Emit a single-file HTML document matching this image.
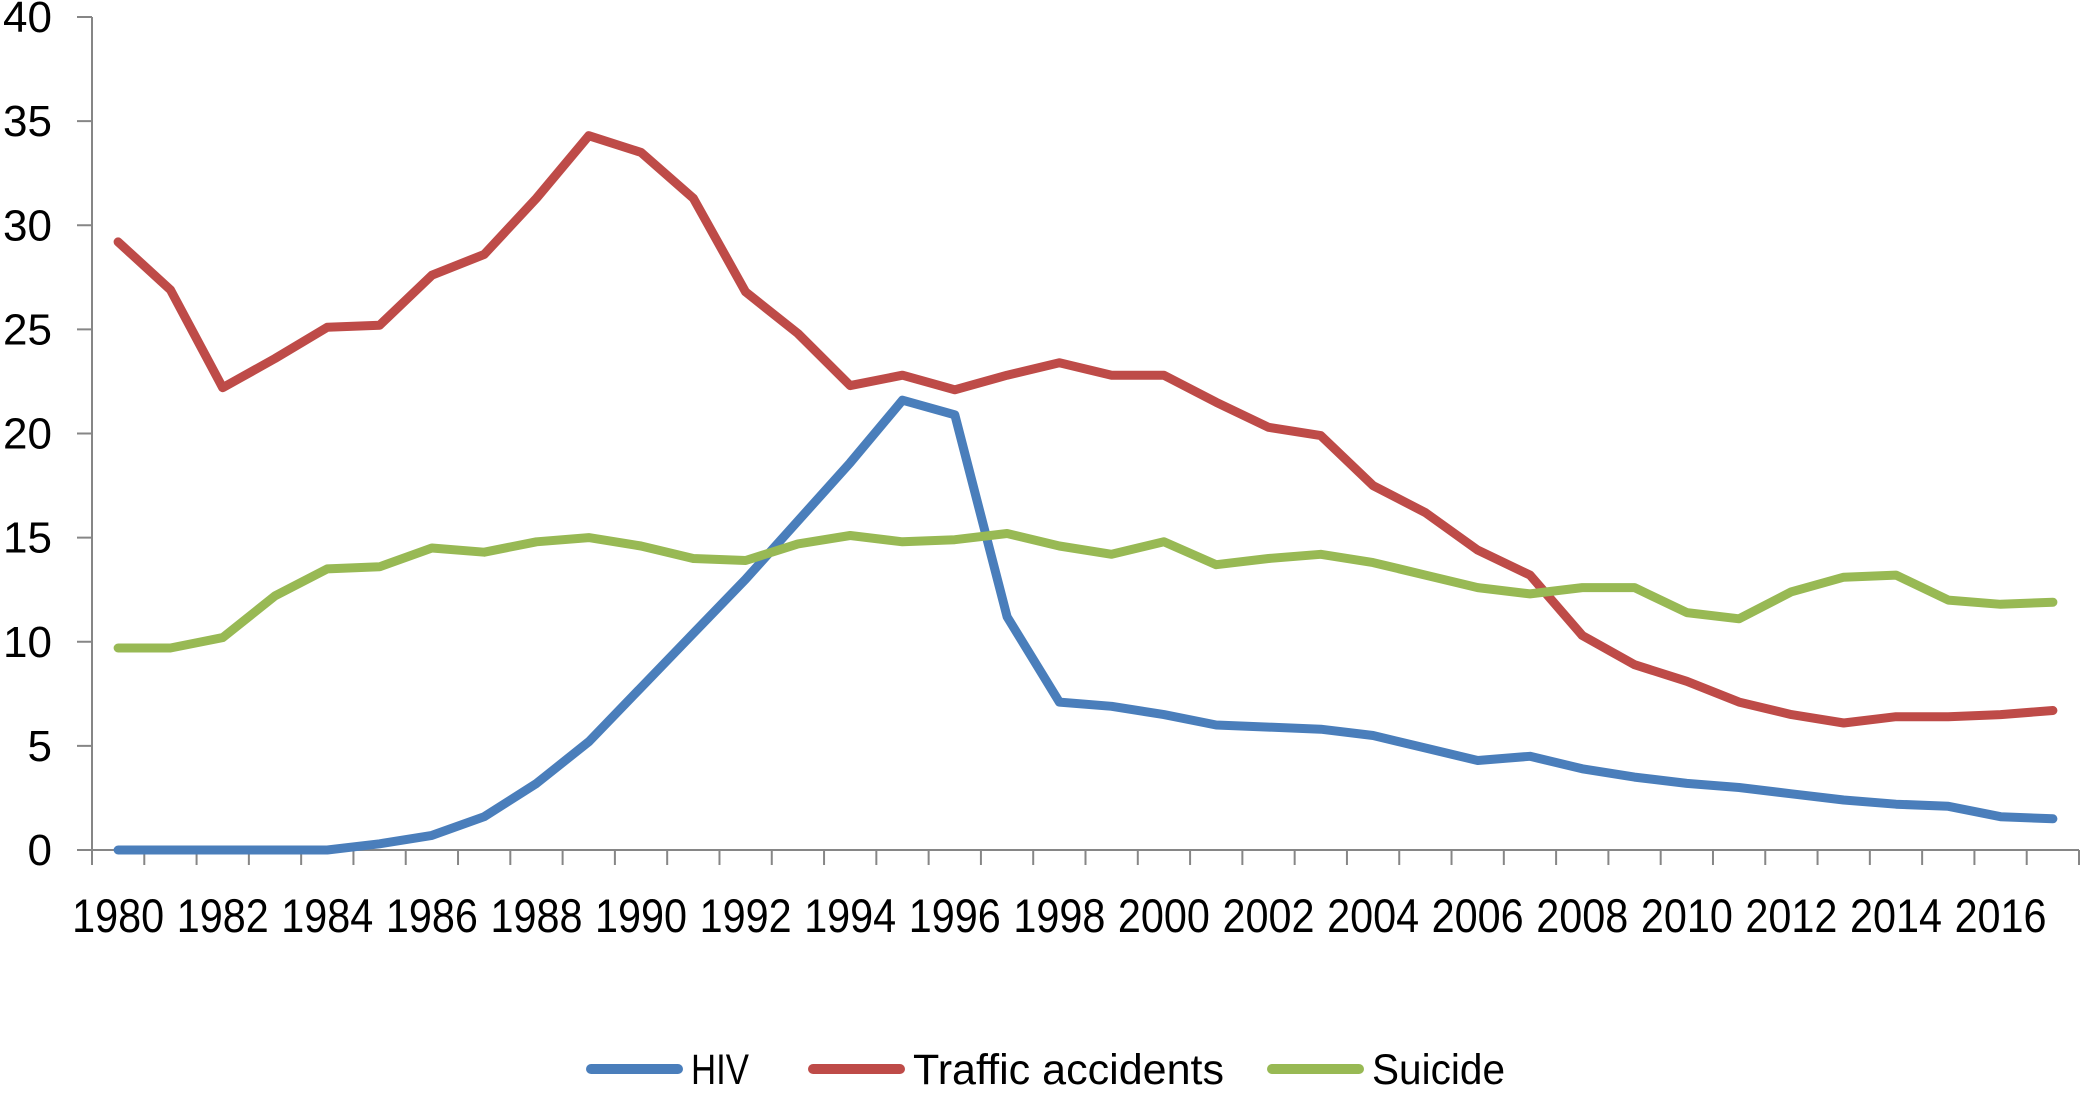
<!DOCTYPE html>
<html><head><meta charset="utf-8"><style>
html,body{margin:0;padding:0;background:#fff;}
svg text{font-family:"Liberation Sans",sans-serif;fill:#000;}
</style></head><body>
<svg id="chart" width="2083" height="1088" xmlns="http://www.w3.org/2000/svg"></svg>
<script>
const years = [];
for (let y = 1980; y <= 2017; y++) years.push(y);
const hivValues = [0,0,0,0,0,0.3,0.7,1.6,3.2,5.2,7.8,10.4,13.0,15.8,18.6,21.6,20.9,11.2,7.1,6.9,6.5,6.0,5.9,5.8,5.5,4.9,4.3,4.5,3.9,3.5,3.2,3.0,2.7,2.4,2.2,2.1,1.6,1.5];
const trafficValues = [29.2,26.9,22.2,23.6,25.1,25.2,27.6,28.6,31.3,34.3,33.5,31.3,26.8,24.8,22.3,22.8,22.1,22.8,23.4,22.8,22.8,21.5,20.3,19.9,17.5,16.2,14.4,13.2,10.3,8.9,8.1,7.1,6.5,6.1,6.4,6.4,6.5,6.7];
const suicideValues = [9.7,9.7,10.2,12.2,13.5,13.6,14.5,14.3,14.8,15.0,14.6,14.0,13.9,14.7,15.1,14.8,14.9,15.2,14.6,14.2,14.8,13.7,14.0,14.2,13.8,13.2,12.6,12.3,12.6,12.6,11.4,11.1,12.4,13.1,13.2,12.0,11.8,11.9];
const yTicks = [0,5,10,15,20,25,30,35,40];
const seriesNames = ["HIV","Traffic accidents","Suicide"];
const seriesColors = ["#4a7ebb","#be4b48","#98b954"];

const NS = "http://www.w3.org/2000/svg";
const svg = document.getElementById("chart");
const X0 = 92, X1 = 2079, Y0 = 850, Y40 = 17;
const band = (X1 - X0) / years.length;
const xs = i => X0 + (i + 0.5) * band;
const ys = v => Y0 - (v / 40) * (Y0 - Y40);
function mk(tag, attrs, parent) {
  const e = document.createElementNS(NS, tag);
  for (const k in attrs) e.setAttribute(k, attrs[k]);
  (parent || svg).appendChild(e);
  return e;
}
const axisColor = "#868686";
const yAxis = mk("line", {x1: X0, y1: Y40, x2: X0, y2: Y0 + 15, stroke: axisColor, "stroke-width": 2});


yTicks.forEach(t => {
  const tk = mk("line", {x1: X0 - 15, y1: ys(t), x2: X0, y2: ys(t), stroke: axisColor, "stroke-width": 2});
  
  
  const lb = mk("text", {x: 52, y: ys(t) + 15, "text-anchor": "end", "font-size": 44});
  lb.textContent = t;
  
  
});
const xAxis = mk("line", {x1: X0 - 15, y1: Y0, x2: X1, y2: Y0, stroke: axisColor, "stroke-width": 2});


for (let i = 0; i <= years.length; i++) {
  const x = X0 + i * band;
  const tk = mk("line", {x1: x, y1: Y0, x2: x, y2: Y0 + 15, stroke: axisColor, "stroke-width": 2});
  
  
}
years.forEach((yr, i) => {
  if (i % 2 !== 0) return;
  const lb = mk("text", {x: xs(i), y: 932, "text-anchor": "middle", "font-size": 47, textLength: 92, lengthAdjust: "spacingAndGlyphs"});
  lb.textContent = yr;
  
  
});
[hivValues, trafficValues, suicideValues].forEach((vals, s) => {
  const pts = vals.map((v, i) => xs(i).toFixed(1) + "," + ys(v).toFixed(1)).join(" ");
  const pl = mk("polyline", {points: pts, fill: "none", stroke: seriesColors[s], "stroke-width": 9, "stroke-linejoin": "round", "stroke-linecap": "round"});
  
  
});
const legendX = [587, 809, 1268];
const legendTextW = [58, 311, 133];
seriesNames.forEach((n, s) => {
  const g = mk("g", {});
  
  
  mk("line", {x1: legendX[s] + 4, y1: 1069, x2: legendX[s] + 91, y2: 1069, stroke: seriesColors[s], "stroke-width": 10, "stroke-linecap": "round"}, g);
  const t = mk("text", {x: legendX[s] + 104, y: 1084, "font-size": 43, textLength: legendTextW[s], lengthAdjust: "spacingAndGlyphs"}, g);
  t.textContent = n;
});
</script>
</body></html>
